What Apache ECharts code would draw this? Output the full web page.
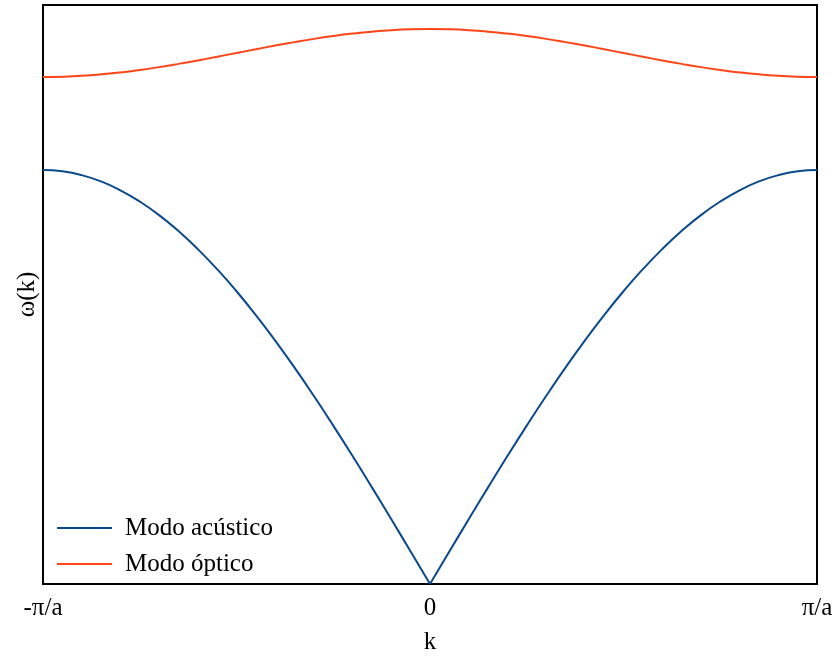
<!DOCTYPE html>
<html>
<head>
<meta charset="utf-8">
<script src="https://cdn.jsdelivr.net/npm/echarts@6/dist/echarts.min.js"></script>
<style>
  html, body { margin: 0; padding: 0; background: #fff; }
  #chart { width: 833px; height: 657px; }
</style>
</head>
<body>
<div id="chart"></div>
<script>
// Wave vector in units of pi/a, first Brillouin zone (left half and right half)
var kLeft  = [-1, -0.95, -0.9, -0.85, -0.8, -0.75, -0.7, -0.65, -0.6, -0.55, -0.5,
              -0.45, -0.4, -0.35, -0.3, -0.25, -0.2, -0.15, -0.1, -0.05, 0];
var kRight = [0, 0.05, 0.1, 0.15, 0.2, 0.25, 0.3, 0.35, 0.4, 0.45, 0.5,
              0.55, 0.6, 0.65, 0.7, 0.75, 0.8, 0.85, 0.9, 0.95, 1];

// Acoustic branch omega(k), relative units
var acousticLeft  = [0.7150, 0.7128, 0.7062, 0.6953, 0.6800, 0.6606, 0.6371, 0.6096, 0.5784, 0.5437, 0.5056,
                     0.4644, 0.4203, 0.3736, 0.3246, 0.2736, 0.2210, 0.1669, 0.1118, 0.0561, 0];
var acousticRight = [0, 0.0561, 0.1118, 0.1669, 0.2210, 0.2736, 0.3246, 0.3736, 0.4203, 0.4644, 0.5056,
                     0.5437, 0.5784, 0.6096, 0.6371, 0.6606, 0.6800, 0.6953, 0.7062, 0.7128, 0.7150];

// Optical branch omega(k), relative units
var opticalLeft  = [0.8756, 0.8762, 0.8777, 0.8802, 0.8836, 0.8878, 0.8927, 0.8983, 0.9043, 0.9106, 0.9171,
                    0.9236, 0.9299, 0.9359, 0.9415, 0.9464, 0.9506, 0.9540, 0.9565, 0.9580, 0.9585];
var opticalRight = [0.9585, 0.9580, 0.9565, 0.9540, 0.9506, 0.9464, 0.9415, 0.9359, 0.9299, 0.9236, 0.9171,
                    0.9106, 0.9043, 0.8983, 0.8927, 0.8878, 0.8836, 0.8802, 0.8777, 0.8762, 0.8756];

var tickLabels = { '-1': '-\u03c0/a', '0': '0', '1': '\u03c0/a' };
var seriesNames = ['Modo ac\u00fastico', 'Modo \u00f3ptico'];
var colors = ['#0a4a8c', '#ff4418'];

function pairs(ks, vs) {
  return ks.map(function (k, i) { return [k, vs[i]]; });
}

var font = 'Liberation Serif, Times New Roman, serif';

function branch(name, color, data) {
  return {
    name: name,
    type: 'line',
    data: data,
    smooth: 0.5,
    symbol: 'none',
    showSymbol: false,
    lineStyle: { color: color, width: 2 },
    itemStyle: { color: color },
    animation: false
  };
}

var chart = echarts.init(document.getElementById('chart'), null, { renderer: 'canvas' });
chart.setOption({
  backgroundColor: '#fff',
  animation: false,
  grid: {
    left: 43, right: 16, top: 5, bottom: 73,
    outerBoundsMode: 'none',
    containLabel: false,
    show: true, borderColor: '#000', borderWidth: 2, backgroundColor: 'transparent'
  },
  legend: {
    data: seriesNames.map(function (n) { return { name: n, icon: 'rect' }; }),
    orient: 'vertical',
    left: 52,
    top: 510,
    itemWidth: 55,
    itemHeight: 2,
    itemGap: 10,
    textStyle: { fontFamily: font, fontSize: 25, color: '#000', lineHeight: 26, padding: [0, 0, 0, 8] }
  },
  xAxis: {
    type: 'value',
    min: -1, max: 1, interval: 1,
    name: 'k',
    nameLocation: 'middle',
    nameGap: 46,
    nameTextStyle: { fontFamily: font, fontSize: 25, color: '#000' },
    axisLine: { show: false },
    axisTick: { show: false },
    splitLine: { show: false },
    axisLabel: {
      margin: 12,
      fontFamily: font, fontSize: 25, color: '#000',
      formatter: function (v) { return tickLabels[String(v)]; }
    }
  },
  yAxis: {
    type: 'value',
    min: 0, max: 1,
    name: '\u03c9(k)',
    nameLocation: 'middle',
    nameGap: 3,
    nameTextStyle: { fontFamily: font, fontSize: 25, color: '#000' },
    axisLine: { show: false },
    axisTick: { show: false },
    splitLine: { show: false },
    axisLabel: { show: false }
  },
  series: [
    branch(seriesNames[0], colors[0], pairs(kLeft, acousticLeft)),
    branch(seriesNames[0], colors[0], pairs(kRight, acousticRight)),
    branch(seriesNames[1], colors[1], pairs(kLeft, opticalLeft)),
    branch(seriesNames[1], colors[1], pairs(kRight, opticalRight))
  ]
});
</script>
</body>
</html>
